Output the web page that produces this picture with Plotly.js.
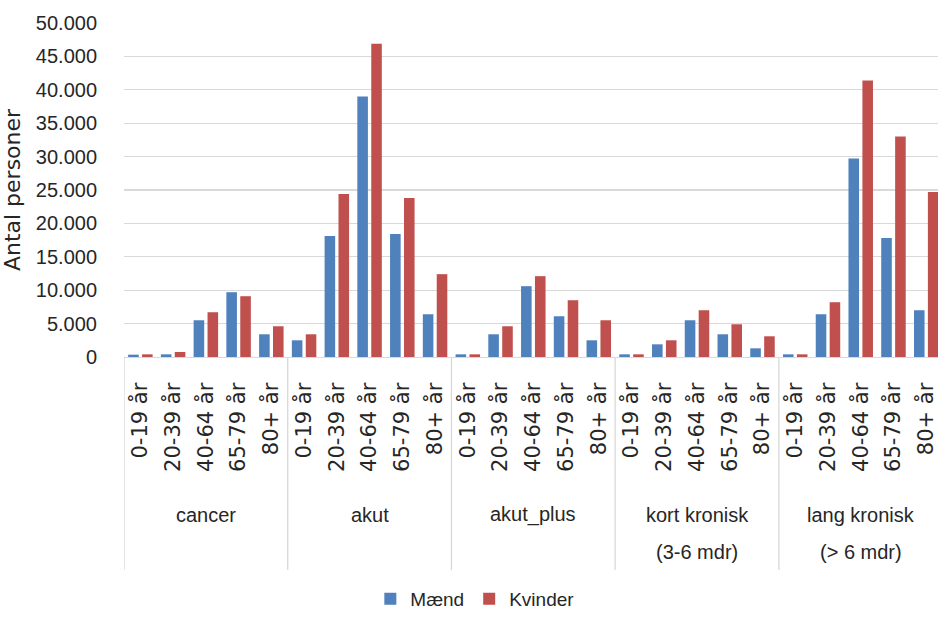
<!DOCTYPE html>
<html><head><meta charset="utf-8">
<script src="https://cdn.plot.ly/plotly-3.0.1.min.js"></script>
<style>html,body{margin:0;padding:0;background:#fff}#chart{width:938px;height:618px}</style>
</head><body><div id="chart"></div>
<script>
const groupNames = ['cancer', 'akut', 'akut_plus', 'kort kronisk', 'lang kronisk'];
const groupSub = ['', '', '', '(3-6 mdr)', '(&gt; 6 mdr)'];
const ageGroups = ['0-19 år', '20-39 år', '40-64 år', '65-79 år', '80+ år'];
const seriesNames = ['Mænd', 'Kvinder'];
const maend = [
  [350, 400, 5500, 9700, 3400],
  [2500, 18100, 39000, 18400, 6400],
  [400, 3400, 10600, 6100, 2500],
  [400, 1900, 5500, 3400, 1300],
  [400, 6400, 29700, 17800, 7000]
];
const kvinder = [
  [400, 750, 6700, 9100, 4600],
  [3400, 24400, 46900, 23800, 12400],
  [400, 4600, 12100, 8500, 5500],
  [400, 2500, 7000, 4900, 3100],
  [400, 8200, 41400, 33000, 24700]
];
const yTicks = [0, 5000, 10000, 15000, 20000, 25000, 30000, 35000, 40000, 45000, 50000];

const keys = [], labels = [];
groupNames.forEach(g => ageGroups.forEach(a => { keys.push(g + '|' + a); labels.push(a); }));
const flat = arr => arr.reduce((acc, r) => acc.concat(r), []);

const colors = ['#4F81BD', '#C0504D'];
const traces = [maend, kvinder].map((d, i) => ({
  type: 'bar', name: seriesNames[i], x: keys, y: flat(d),
  marker: {color: colors[i]}, hoverinfo: 'x+y'
}));

const nA = ageGroups.length;
const shapes = [];
for (let g = 0; g < groupNames.length; g++) {
  shapes.push({type: 'line', xref: 'x', yref: 'paper', x0: g * nA - 0.5, x1: g * nA - 0.5,
    y0: 0, y1: -0.638, line: {color: '#d9d9d9', width: 1.3}});
}
const annotations = [];
groupNames.forEach((g, i) => {
  annotations.push({xref: 'x', yref: 'paper', x: i * nA + (nA - 1) / 2, y: -0.473, text: g,
    showarrow: false, yanchor: 'middle', font: {family: 'Liberation Sans', size: 20, color: '#262626'}});
  if (groupSub[i]) annotations.push({xref: 'x', yref: 'paper', x: i * nA + (nA - 1) / 2, y: -0.584,
    text: groupSub[i], showarrow: false, yanchor: 'middle', font: {family: 'Liberation Sans', size: 20, color: '#262626'}});
});

const layout = {
  width: 938, height: 618,
  margin: {l: 124, r: 0, t: 23, b: 261},
  paper_bgcolor: '#fff', plot_bgcolor: '#fff',
  separators: ',.',
  barmode: 'group', bargap: 0.15, bargroupgap: 0.24,
  xaxis: {type: 'category', range: [-0.5, 24.36], tickvals: keys, ticktext: labels,
    tickangle: -90, ticks: 'outside', ticklen: 16, tickcolor: 'rgba(0,0,0,0)',
    showline: true, linecolor: '#d9d9d9', linewidth: 1.3, showgrid: false, zeroline: false,
    tickfont: {family: 'DejaVu Sans', size: 21, color: '#262626'}, fixedrange: true},
  yaxis: {range: [0, 50000], tickvals: yTicks, tickformat: ',d', showgrid: true,
    gridcolor: '#d9d9d9', gridwidth: 1.3, zeroline: false, showline: false,
    ticks: 'outside', ticklen: 22, tickcolor: 'rgba(0,0,0,0)',
    tickfont: {family: 'Liberation Sans', size: 20, color: '#262626'},
    title: {text: 'Antal personer', font: {family: 'DejaVu Sans', size: 22, color: '#262626'}, standoff: 12},
    fixedrange: true},
  showlegend: true,
  legend: {orientation: 'h', x: 0.431, xanchor: 'center', y: -0.782, yanchor: 'bottom',
    font: {family: 'Liberation Sans', size: 19, color: '#262626'}, traceorder: 'normal'},
  shapes: shapes, annotations: annotations
};
Plotly.newPlot('chart', traces, layout, {displayModeBar: false, staticPlot: true});
</script></body></html>
